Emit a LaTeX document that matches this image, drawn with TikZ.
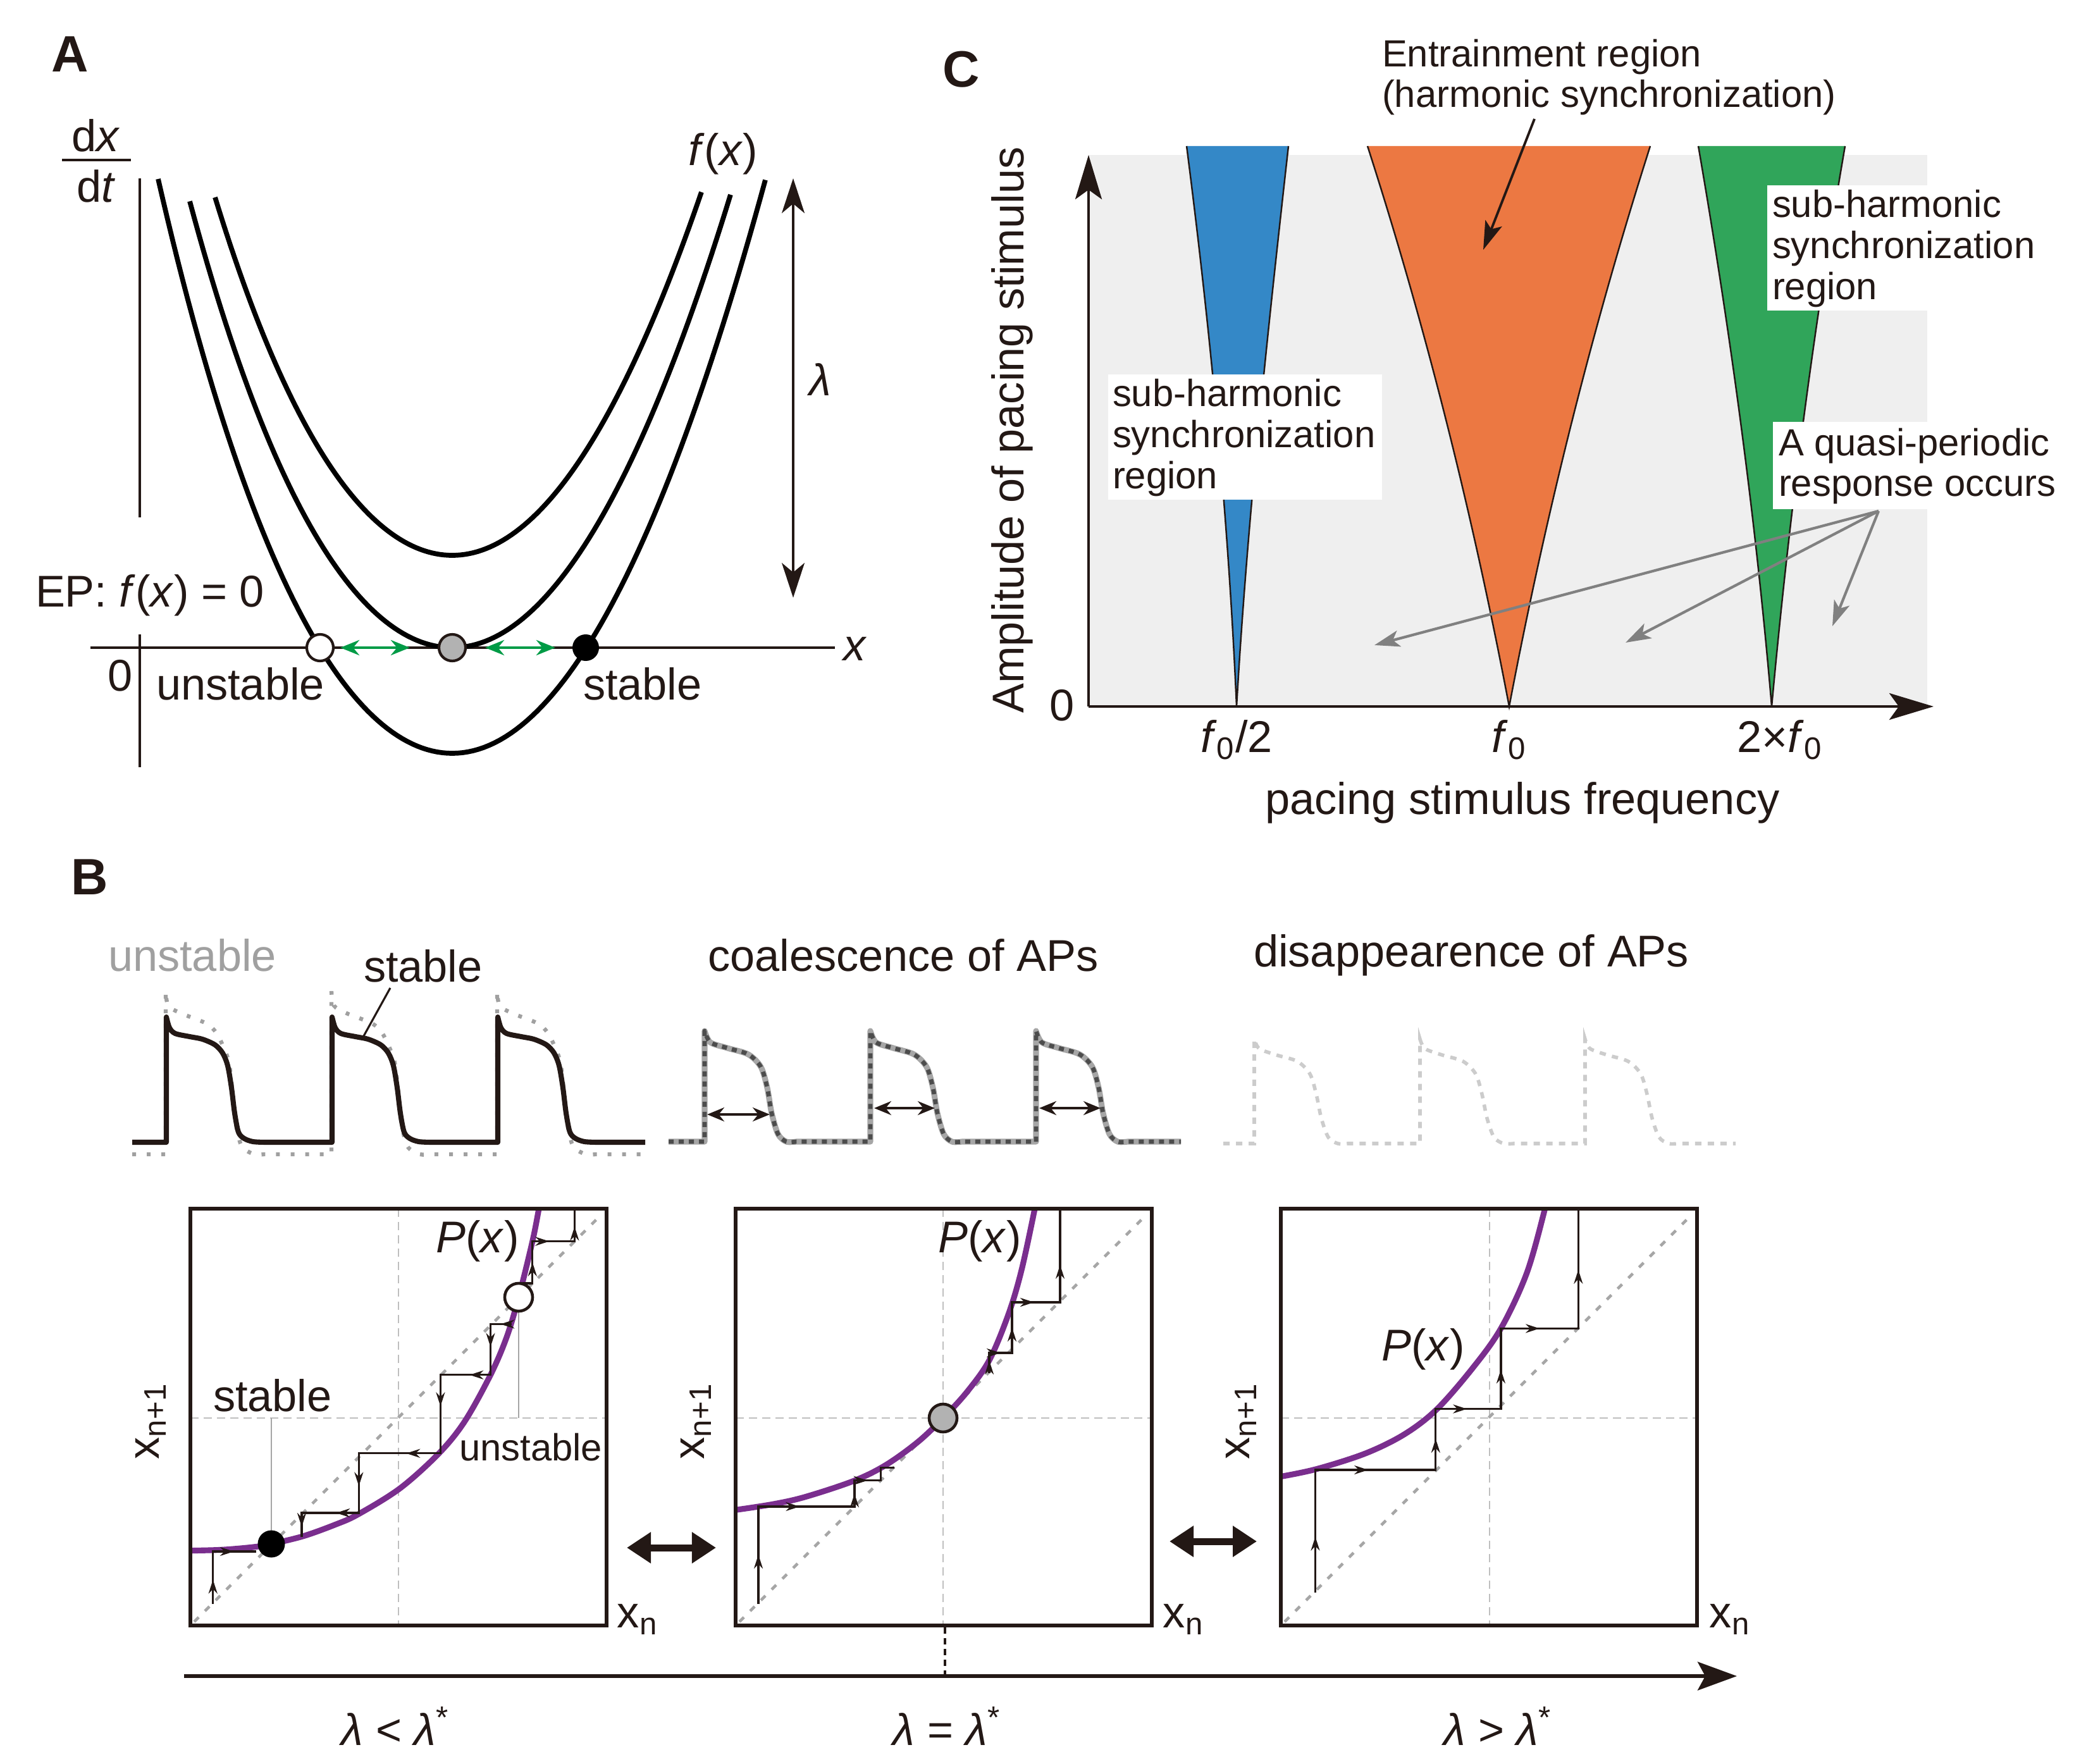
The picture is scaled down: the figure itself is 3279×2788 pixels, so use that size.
\documentclass[tikz,border=0pt]{standalone}
\usepackage{fontspec}
\setmainfont{Liberation Sans}
\usetikzlibrary{arrows.meta,decorations.markings}
\definecolor{ink}{RGB}{35,24,21}
\definecolor{cblue}{RGB}{52,136,199}
\definecolor{corange}{RGB}{236,120,66}
\definecolor{cgreen}{RGB}{48,165,90}
\definecolor{cbg}{RGB}{239,239,239}
\definecolor{cpurple}{RGB}{122,46,142}
\definecolor{cgarrow}{RGB}{0,155,70}
\definecolor{cgrayarrow}{RGB}{128,128,128}
\definecolor{cunst}{RGB}{160,160,160}
\tikzset{
  lab/.style={font=\fontsize{20pt}{24pt}\selectfont, text=ink},
  labm/.style={font=\fontsize{17pt}{18.4pt}\selectfont, text=ink, align=left},
  labu/.style={font=\fontsize{17pt}{20pt}\selectfont, text=ink},
  lettr/.style={font=\fontsize{23pt}{27pt}\selectfont\bfseries, text=ink},
  axisA/.style={draw=ink, line width=0.9pt},
  curveA/.style={draw=black, line width=2.2pt},
  garrow/.style={draw=cgarrow, line width=1.4pt, {Stealth[length=0.3cm,width=0.24cm]}-{Stealth[length=0.3cm,width=0.24cm]}},
  lamarrow/.style={draw=ink, line width=0.9pt, {Stealth[length=0.55cm,width=0.36cm,inset=0.15cm]}-{Stealth[length=0.55cm,width=0.36cm,inset=0.15cm]}},
  ptopen/.style={circle, draw=ink, fill=white, line width=1.2pt, minimum size=0.42cm},
  ptgray/.style={circle, draw=ink, fill=black!30, line width=1.2pt, minimum size=0.42cm},
  ptblack/.style={circle, fill=black, minimum size=0.42cm},
  wedgeedge/.style={draw=ink, line width=0.7pt},
  axisC/.style={draw=ink, line width=1.2pt, -{Stealth[length=0.7cm,width=0.42cm,inset=0.15cm]}},
  grayarr/.style={draw=cgrayarrow, line width=1.2pt, -{Stealth[length=0.4cm,width=0.26cm,inset=0.1cm]}},
  blackarr/.style={draw=ink, line width=1.1pt, -{Stealth[length=0.45cm,width=0.28cm,inset=0.1cm]}},
  apsolid/.style={draw=ink, line width=2.3pt, line join=round},
  apdot/.style={draw=cunst, line width=1.8pt, dash pattern=on 0.06cm off 0.17cm},
  apco/.style={draw=black!35, line width=2.6pt, line join=round, postaction={draw=black!70, line width=1.9pt, dash pattern=on 0.08cm off 0.08cm}},
  apfaint/.style={draw=black!20, line width=1.6pt, dash pattern=on 0.1cm off 0.1cm},
  apdarrow/.style={draw=ink, line width=1.1pt, {Stealth[length=0.27cm,width=0.22cm]}-{Stealth[length=0.27cm,width=0.22cm]}},
  midline/.style={draw=black!25, line width=0.6pt, dash pattern=on 0.13cm off 0.08cm},
  diagline/.style={draw=black!35, line width=1.3pt, dash pattern=on 0.1cm off 0.14cm},
  guide/.style={draw=black!35, line width=0.8pt},
  pcurve/.style={draw=cpurple, line width=2.6pt},
  cob/.style={draw=ink, line width=0.9pt, line cap=rect},
  ma/.style={postaction={decorate, decoration={markings, mark=at position #1 with {\arrow[ink]{Stealth[length=0.22cm,width=0.14cm]}}}}},
  boxframe/.style={draw=ink, line width=1.6pt},
  bigdarrow/.style={draw=ink, line width=0.11cm, {Triangle[length=0.38cm,width=0.47cm]}-{Triangle[length=0.38cm,width=0.47cm]}},
}
\begin{document}
\begin{tikzpicture}[x=0.01cm,y=-0.01cm, every node/.style={inner sep=0pt,outer sep=0pt}]
\useasboundingbox (0,0) rectangle (3279,2788);

% ================= Panel A =================
\node[lettr] (lblA) at (111,86) {A};
\node[lab] (dxn) at (152,214) {d\textit{x}};
\node[lab] (dtn) at (152,294) {d\textit{t}};
\draw[axisA] (98,253) -- (207,253);
\draw[axisA] (221,282) -- (221,818);
\draw[axisA] (221,1003) -- (221,1213);
\draw[axisA] (143,1024) -- (1320,1024);
\node[lab] (xA) at (1352,1026) {\textit{x}};
\node[lab] (zeroA) at (190,1068) {0};
\node[lab,anchor=west] (epA) at (56,941) {EP: \textit{f}(\textit{x}) = 0};
\node[lab,anchor=west] (unA) at (247,1081) {unstable};
\node[lab,anchor=west] (stA) at (922,1081) {stable};
\node[lab] (fxA) at (1143,243) {\textit{f}(\textit{x})};
\draw[lamarrow] (1254,282) -- (1254,945);
\node[lab] (lamA) at (1297,600) {\textit{λ}};
\foreach \ym/\ua/\ub in {1191/4.65/4.95, 1024/4.15/4.40, 878/3.75/3.94}{
  \draw[curveA] plot[domain=-\ua:0,samples=60] ({715+100*\x},{\ym-37*\x*\x-0.231*\x*\x*\x*\x})
     -- plot[domain=0:\ub,samples=60] ({715+100*\x},{\ym-37*\x*\x});
}
\draw[garrow] (538,1024) -- (648,1024);
\draw[garrow] (767,1024) -- (878,1024);
\node[ptopen] (pU) at (506,1024) {};
\node[ptgray] (pG) at (715,1024) {};
\node[ptblack] (pS) at (926,1024) {};

% ================= Panel C =================
\node[lettr] (lblC) at (1520,110) {C};
\fill[cbg] (1721,245) rectangle (3047,1117);
\fill[cblue] (1876,231) .. controls (1914,526) and (1942,822) .. (1955,1117) .. controls (1972,822) and (2004,526) .. (2037,231) -- cycle;
\draw[wedgeedge] (1876,231) .. controls (1914,526) and (1942,822) .. (1955,1117) .. controls (1972,822) and (2004,526) .. (2037,231);
\fill[corange] (2162,231) .. controls (2257,526) and (2330,822) .. (2386,1117) .. controls (2442,822) and (2515,526) .. (2609,231) -- cycle;
\draw[wedgeedge] (2162,231) .. controls (2257,526) and (2330,822) .. (2386,1117) .. controls (2442,822) and (2515,526) .. (2609,231);
\fill[cgreen] (2685,231) .. controls (2736,526) and (2776,822) .. (2801,1117) .. controls (2828,822) and (2866,526) .. (2917,231) -- cycle;
\draw[wedgeedge] (2685,231) .. controls (2736,526) and (2776,822) .. (2801,1117) .. controls (2828,822) and (2866,526) .. (2917,231);
\fill[white] (1752,592) rectangle (2185,790);
\fill[white] (2794,293) rectangle (3047,491);
\fill[white] (2803,667) rectangle (3047,805);
\draw[axisC] (1721,1117) -- (1721,245);
\draw[axisC] (1721,1117) -- (3057,1117);
\node[lab] (zeroC) at (1679,1115) {0};
\node[lab, rotate=90] (ylabC) at (1600,680) {Amplitude of pacing stimulus};
\node[lab] (t1) at (1955,1170) {\textit{f}\textsubscript{0}/2};
\node[lab] (t2) at (2386,1170) {\textit{f}\textsubscript{0}};
\node[lab] (t3) at (2814,1170) {2×\textit{f}\textsubscript{0}};
\node[lab] (xlabC) at (2407,1269) {pacing stimulus frequency};
\node[labm, anchor=west] (entr) at (2185,122) {Entrainment region\\(harmonic synchronization)};
\coordinate (entrS) at (2426,188);
\coordinate (entrE) at (2345,395);
\draw[blackarr] (entrS) -- (entrE);
\node[labm, anchor=west] (subL) at (1759,692) {sub-harmonic\\synchronization\\region};
\node[labm, anchor=west] (subR) at (2802,393) {sub-harmonic\\synchronization\\region};
\node[labm, anchor=west] (quasi) at (2812,737) {A quasi-periodic\\response occurs};
\coordinate (qs) at (2970,808);
\coordinate (q1) at (2173,1020);
\coordinate (q2) at (2570,1016);
\coordinate (q3) at (2897,990);
\draw[grayarr] (qs) -- (q1);
\draw[grayarr] (qs) -- (q2);
\draw[grayarr] (qs) -- (q3);

% ================= Panel B =================
\node[lettr] (lblB) at (142,1387) {B};
\node[lab, anchor=west, text=cunst] (unB) at (171,1510) {unstable};
\node[lab, anchor=west] (stB) at (575,1527) {stable};
\node[lab, anchor=west] (coB) at (1119,1510) {coalescence of APs};
\node[lab, anchor=west] (diB) at (1982,1510) {disappearence of APs};

% AP traces group 1
\draw[apdot] (209,1825) \foreach \a in {262,524,786}{ -- (\a,1825) -- (\a,1567) -- plot[smooth,tension=0.5] coordinates {(\a,1567) ({\a+4},1590) ({\a+24},1602) ({\a+64},1618) ({\a+80},1633) ({\a+92},1657) ({\a+100},1680) ({\a+105},1720) ({\a+109},1765) ({\a+115},1797) ({\a+122},1815) ({\a+140},1825) ({\a+155},1825)} } -- (1020,1825);
\draw[apsolid] (209,1806) \foreach \a in {263,525,787}{ -- (\a,1806) -- (\a,1608) -- plot[smooth,tension=0.5] coordinates {(\a,1608) ({\a+5},1625) ({\a+14},1634) ({\a+37},1639) ({\a+57},1643) ({\a+77},1652) ({\a+89},1665) ({\a+97},1685) ({\a+103},1720) ({\a+108},1760) ({\a+114},1790) ({\a+123},1800) ({\a+137},1805) ({\a+157},1806)} } -- (1020,1806);
\draw[draw=ink, line width=0.9pt] (617,1562) -- (575,1638);

% group 2
\draw[apco] (1057,1805) \foreach \a in {1114,1376,1638}{ -- (\a,1805) -- (\a,1630) -- plot[smooth,tension=0.5] coordinates {(\a,1630) ({\a+9},1648) ({\a+36},1657) ({\a+69},1667) ({\a+89},1687) ({\a+99},1720) ({\a+106},1760) ({\a+116},1793) ({\a+129},1805) ({\a+145},1805)} } -- (1867,1805);
\draw[apdarrow] (1118,1762) -- (1217,1762);
\draw[apdarrow] (1382,1752) -- (1478,1752);
\draw[apdarrow] (1643,1752) -- (1740,1752);

% group 3
\draw[apfaint] (1934,1808) \foreach \a in {1983,2245,2506}{ -- (\a,1808) -- (\a,1643) -- plot[smooth,tension=0.5] coordinates {(\a,1643) ({\a+8},1658) ({\a+35},1668) ({\a+68},1678) ({\a+88},1698) ({\a+98},1730) ({\a+106},1768) ({\a+117},1798) ({\a+132},1808) ({\a+148},1808)} } -- (2744,1808);

% ---- Box 1
\begin{scope}[shift={(301,1911)}]
  \begin{scope}
    \clip (0,0) rectangle (658,659);
    \draw[midline] (329,0) -- (329,659);
    \draw[midline] (0,331) -- (658,331);
    \draw[diagline] (6,653) -- (645,14);
    \draw[guide] (128,331) -- (128,530);
    \draw[guide] (519,140) -- (519,331);
    \draw[pcurve] plot[smooth,tension=0.55] coordinates {(0,540.6) (51,539.2) (102,534.7) (128,530) (178.6,517.7) (229.6,499.3) (265.3,483.2) (331.7,441.9) (393,386.8) (433.7,336.3) (474.5,262.8) (500,203.2) (519,140) (540.8,51.6) (551,0) (553,-10)};
    \draw[cob, ma=0.45] (35.7,623) -- (35.7,542);
    \draw[cob, ma=0.5] (35.7,542) -- (102,542);
    \draw[cob, ma=0.5] (506,182.5) -- (474.5,182.5);
    \draw[cob, ma=0.45] (474.5,182.5) -- (474.5,262.8);
    \draw[cob, ma=0.42] (474.5,262.8) -- (395.4,262.8);
    \draw[cob, ma=0.4] (395.4,262.8) -- (395.4,386.8);
    \draw[cob, ma=0.42] (395.4,386.8) -- (266.3,386.8);
    \draw[cob, ma=0.55] (266.3,386.8) -- (266.3,481);
    \draw[cob, ma=0.4] (266.3,481) -- (176,481);
    \draw[cob, ma=0.6] (176,481) -- (176,517.7);
    \draw[cob] (527,118) -- (540.8,118);
    \draw[cob, ma=0.5] (540.8,118) -- (540.8,51.6);
    \draw[cob, ma=0.4] (540.8,51.6) -- (607.4,51.6);
    \draw[cob, ma=0.45] (607.4,51.6) -- (607.4,0);
  \end{scope}
  \node[ptblack, minimum size=0.43cm] (s1) at (128,530) {};
  \node[ptopen, line width=1.3pt, minimum size=0.44cm] (u1) at (519,140) {};
  \draw[boxframe] (0,0) rectangle (658,659);
\end{scope}

% ---- Box 2
\begin{scope}[shift={(1163,1911)}]
  \begin{scope}
    \clip (0,0) rectangle (658,659);
    \draw[midline] (328,0) -- (328,659);
    \draw[midline] (0,331) -- (658,331);
    \draw[diagline] (6,653) -- (645,14);
    \draw[pcurve] plot[smooth,tension=0.55] coordinates {(0,476.3) (59,467.2) (110,455.7) (186.6,430.4) (237.6,405.2) (288.6,368.4) (328,331) (365.2,290.4) (400.9,239.9) (431.5,166.4) (451.9,97.6) (472.3,3.4) (474,-10)};
    \draw[cob, ma=0.5] (36,623) -- (36,471);
    \draw[cob, ma=0.43] (36,471) -- (188,471);
    \draw[cob, ma=0.5] (188,471) -- (188,429.7);
    \draw[cob, ma=0.5] (188,429.7) -- (229.2,429.7);
    \draw[cob] (229.2,429.7) -- (229.2,409.3) -- (249.7,409.3);
    \draw[cob, ma=0.6] (401,258) -- (401,228);
    \draw[cob, ma=0.5] (401,228) -- (437,228);
    \draw[cob, ma=0.5] (437,228) -- (437,148);
    \draw[cob, ma=0.46] (437,148) -- (513,148);
    \draw[cob, ma=0.4] (513,148) -- (513,0);
  \end{scope}
  \node[ptgray, line width=1.3pt, minimum size=0.44cm] (g2) at (328,331) {};
  \draw[boxframe] (0,0) rectangle (658,659);
\end{scope}

% ---- Box 3
\begin{scope}[shift={(2025,1911)}]
  \begin{scope}
    \clip (0,0) rectangle (658,659);
    \draw[midline] (330,0) -- (330,659);
    \draw[midline] (0,331) -- (658,331);
    \draw[diagline] (6,653) -- (645,14);
    \draw[pcurve] plot[smooth,tension=0.55] coordinates {(0,423.5) (57,411.5) (133.6,387) (194.8,357) (245.8,317.9) (301.9,253.7) (347.9,189.4) (388.7,102.1) (416.7,3.4) (418,-10)};
    \draw[cob, ma=0.45] (54.5,605) -- (54.5,413);
    \draw[cob, ma=0.44] (54.5,413) -- (244.8,413);
    \draw[cob, ma=0.51] (244.8,413) -- (244.8,316.6);
    \draw[cob, ma=0.48] (244.8,316.6) -- (347.9,316.6);
    \draw[cob, ma=0.49] (347.9,316.6) -- (347.9,189.4);
    \draw[cob, ma=0.5] (347.9,189.4) -- (470.3,189.4);
    \draw[cob, ma=0.49] (470.3,189.4) -- (470.3,0);
  \end{scope}
  \draw[boxframe] (0,0) rectangle (658,659);
\end{scope}

% box labels
\node[lab, anchor=west] (stab1) at (337,2206) {stable};
\node[labu, anchor=west] (unst1) at (726,2288) {unstable};
\node[lab] (P1) at (755,1962) {\textit{P}(\textit{x})};
\node[lab] (P2) at (1549,1962) {\textit{P}(\textit{x})};
\node[lab] (P3) at (2250,2133) {\textit{P}(\textit{x})};
\node[lab, rotate=90] (y1) at (238,2247) {x\textsubscript{n+1}};
\node[lab, rotate=90] (y2) at (1100,2247) {x\textsubscript{n+1}};
\node[lab, rotate=90] (y3) at (1962,2247) {x\textsubscript{n+1}};
\node[lab] (xn1) at (1008,2560) {x\textsubscript{n}};
\node[lab] (xn2) at (1871,2560) {x\textsubscript{n}};
\node[lab] (xn3) at (2735,2560) {x\textsubscript{n}};

% double arrows between boxes
\coordinate (da1) at (991,2447); \coordinate (db1) at (1132,2447);
\coordinate (da2) at (1849,2437); \coordinate (db2) at (1987,2437);
\draw[bigdarrow] (da1) -- (db1);
\draw[bigdarrow] (da2) -- (db2);

% lambda axis
\coordinate (axS) at (291,2650); \coordinate (axE) at (2746,2650);
\draw[draw=ink, line width=1.5pt, -{Stealth[length=0.62cm,width=0.45cm,inset=0.12cm]}] (axS) -- (axE);
\coordinate (dsh1) at (1494,2573); \coordinate (dsh2) at (1494,2650);
\draw[draw=ink, line width=1pt, dash pattern=on 0.1cm off 0.07cm] (dsh1) -- (dsh2);
\node[lab] (lam1) at (625,2729) {\textit{λ} < \textit{λ}\textsuperscript{*}};
\node[lab] (lam2) at (1497,2729) {\textit{λ} = \textit{λ}\textsuperscript{*}};
\node[lab] (lam3) at (2368,2729) {\textit{λ} > \textit{λ}\textsuperscript{*}};
\end{tikzpicture}
\end{document}
